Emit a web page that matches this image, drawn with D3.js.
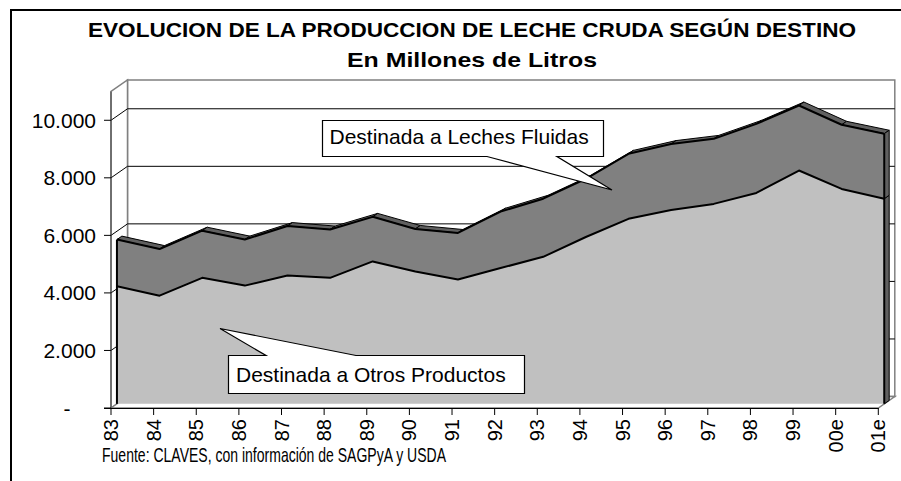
<!DOCTYPE html>
<html>
<head>
<meta charset="utf-8">
<script src="https://cdn.jsdelivr.net/npm/d3@7"></script>
<style>
  html, body { margin: 0; padding: 0; background: #fff; }
  svg { display: block; font-family: "Liberation Sans", Arial, sans-serif; }
</style>
</head>
<body>
<svg id="chart" width="901" height="481"></svg>
<script>
// ---------- DATA ----------
const years = ["83","84","85","86","87","88","89","90","91","92","93","94","95","96","97","98","99","00e","01e"];
const otrosProductos = [4090,3760,4380,4110,4460,4380,4950,4600,4320,4720,5110,5800,6430,6740,6950,7330,8110,7470,7130];
const lechesFluidas  = [1620,1620,1640,1600,1720,1680,1550,1480,1620,1960,2020,2020,2260,2290,2260,2400,2260,2230,2260];
const yTicks = [0,2000,4000,6000,8000,10000];
const yTickLabels = ["-","2.000","4.000","6.000","8.000","10.000"];
const seriesNames = ["Destinada a Otros Productos","Destinada a Leches Fluidas"];
const titleText = "EVOLUCION DE LA PRODUCCION DE LECHE CRUDA SEGÚN DESTINO";
const subtitleText = "En Millones de Litros";
const sourceText = "Fuente: CLAVES, con información de SAGPyA y USDA";
const yMax = 11000;

// ---------- SETUP ----------
const svg = d3.select("#chart");
const x = d3.scalePoint().domain(years).range([111, 878.3]);
const y = d3.scaleLinear().domain([0, yMax]).range([408, 91.5]);
const DX = 16.5, DY = 11.5;          // 3D depth of the chart box
const dF = 0.36, dB = 0.66;          // front / back depth of the area band
const P = (cat, v, d) => [x(cat) + d * DX, y(v) - d * DY];

const totals = years.map((c, i) => otrosProductos[i] + lechesFluidas[i]);

// Outer frame
svg.append("rect").attr("x", 11).attr("y", 10).attr("width", 900).attr("height", 480)
  .attr("fill", "#fff").attr("stroke", "#000").attr("stroke-width", 2);

// Titles
svg.append("text").attr("x", 472).attr("y", 37).attr("text-anchor", "middle")
  .attr("font-weight", "bold").attr("font-size", 21)
  .attr("textLength", 768).attr("lengthAdjust", "spacingAndGlyphs").text(titleText);
svg.append("text").attr("x", 472).attr("y", 67).attr("text-anchor", "middle")
  .attr("font-weight", "bold").attr("font-size", 21)
  .attr("textLength", 250).attr("lengthAdjust", "spacingAndGlyphs").text(subtitleText);

// ---------- WALLS ----------
const x0 = x(years[0]), x1 = x(years[years.length - 1]);
const yTop = y(yMax), yBot = y(0);
const wallG = svg.append("g");
wallG.append("rect").attr("x", x0 + DX).attr("y", yTop - DY)
  .attr("width", x1 - x0).attr("height", yBot - yTop)
  .attr("fill", "#fff").attr("stroke", "#808080").attr("stroke-width", 1.5);
wallG.append("path")
  .attr("d", `M${x0},${yBot}L${x0},${yTop}L${x0+DX},${yTop-DY}L${x0+DX},${yBot-DY}Z`)
  .attr("fill", "#fff").attr("stroke", "#808080").attr("stroke-width", 1.5);
wallG.append("path")
  .attr("d", `M${x0},${yBot}L${x0+DX},${yBot-DY}L${x1+DX},${yBot-DY}L${x1},${yBot}Z`)
  .attr("fill", "#fff").attr("stroke", "#808080").attr("stroke-width", 1.5);

yTicks.filter(v => v > 0).forEach(v => {
  wallG.append("line").attr("x1", x0 + DX).attr("x2", x1 + DX)
    .attr("y1", y(v) - DY).attr("y2", y(v) - DY)
    .attr("stroke", "#000").attr("stroke-width", 1);
  wallG.append("line").attr("x1", x0).attr("x2", x0 + DX)
    .attr("y1", y(v)).attr("y2", y(v) - DY)
    .attr("stroke", "#000").attr("stroke-width", 1);
});

// ---------- 3D AREA ----------
const areaG = svg.append("g");
const poly = pts => "M" + pts.map(p => p.join(",")).join("L") + "Z";
for (let i = 0; i < years.length - 1; i++) {
  const a = years[i], b = years[i + 1];
  areaG.append("path")
    .attr("d", poly([P(a, totals[i], dF), P(b, totals[i+1], dF), P(b, totals[i+1], dB), P(a, totals[i], dB)]))
    .attr("fill", "#606060").attr("stroke", "#000").attr("stroke-width", 1).attr("stroke-linejoin", "round");
}
const last = years.length - 1, lc = years[last];
areaG.append("path")
  .attr("d", poly([P(lc, 0, dF), P(lc, otrosProductos[last], dF), P(lc, otrosProductos[last], dB), P(lc, 0, dB)]))
  .attr("fill", "#606060").attr("stroke", "#000").attr("stroke-width", 1);
areaG.append("path")
  .attr("d", poly([P(lc, otrosProductos[last], dF), P(lc, totals[last], dF), P(lc, totals[last], dB), P(lc, otrosProductos[last], dB)]))
  .attr("fill", "#606060").attr("stroke", "#000").attr("stroke-width", 1);

const areaLight = d3.area()
  .x((d, i) => x(years[i]) + dF * DX)
  .y0(() => y(0) - dF * DY)
  .y1((d, i) => y(otrosProductos[i]) - dF * DY);
const areaDark = d3.area()
  .x((d, i) => x(years[i]) + dF * DX)
  .y0((d, i) => y(otrosProductos[i]) - dF * DY)
  .y1((d, i) => y(totals[i]) - dF * DY);
areaG.append("path").attr("d", areaLight(years)).attr("fill", "#C0C0C0");
areaG.append("path").attr("d", areaDark(years)).attr("fill", "#808080");

const lineOtros = d3.line().x((d, i) => x(years[i]) + dF * DX).y((d, i) => y(otrosProductos[i]) - dF * DY);
const lineTotal = d3.line().x((d, i) => x(years[i]) + dF * DX).y((d, i) => y(totals[i]) - dF * DY);
areaG.append("path").attr("d", lineOtros(years)).attr("fill", "none").attr("stroke", "#000").attr("stroke-width", 2).attr("stroke-linejoin", "round");
areaG.append("path").attr("d", lineTotal(years)).attr("fill", "none").attr("stroke", "#000").attr("stroke-width", 2).attr("stroke-linejoin", "round");
[[years[0], totals[0]], [lc, totals[last]]].forEach(([c, t]) => {
  const p0 = P(c, 0, dF), p1 = P(c, t, dF);
  areaG.append("line").attr("x1", p0[0]).attr("y1", p0[1]).attr("x2", p1[0]).attr("y2", p1[1])
    .attr("stroke", "#000").attr("stroke-width", 2);
});

// ---------- AXES ----------
const axG = svg.append("g");
axG.append("line").attr("x1", x0).attr("x2", x0).attr("y1", yBot).attr("y2", yTop).attr("stroke", "#404040").attr("stroke-width", 1);
axG.append("line").attr("x1", x0 - 7).attr("x2", x1).attr("y1", yBot + 0.5).attr("y2", yBot + 0.5).attr("stroke", "#000").attr("stroke-width", 1.2);
yTicks.forEach((v, i) => {
  axG.append("line").attr("x1", x0 - 7).attr("x2", x0).attr("y1", y(v)).attr("y2", y(v)).attr("stroke", "#000");
  const lab = yTickLabels[i];
  axG.append("text")
    .attr("x", lab === "-" ? 67 : 96).attr("y", y(v))
    .attr("text-anchor", lab === "-" ? "middle" : "end")
    .attr("dominant-baseline", "central").attr("font-size", 21).text(lab);
});
years.forEach(c => {
  axG.append("line").attr("x1", x(c)).attr("x2", x(c)).attr("y1", yBot).attr("y2", yBot + 7).attr("stroke", "#000");
  axG.append("text").attr("transform", `translate(${x(c)},${yBot + 11}) rotate(-90)`)
    .attr("text-anchor", "end").attr("dominant-baseline", "central")
    .attr("font-size", 20).text(c);
});

// ---------- CALLOUTS ----------
const cg = svg.append("g");
cg.append("path")
  .attr("d", "M322.5,120.5H603.5V156.5H557L612,190L487,156.5H322.5Z")
  .attr("fill", "#fff").attr("stroke", "#000").attr("stroke-width", 1.2);
cg.append("text").attr("x", 329.5).attr("y", 143.5).attr("font-size", 21).text(seriesNames[1]);
cg.append("path")
  .attr("d", "M228.5,355.5H266L220,328.5L356,355.5H524.5V393.5H228.5Z")
  .attr("fill", "#fff").attr("stroke", "#000").attr("stroke-width", 1.2);
cg.append("text").attr("x", 236).attr("y", 382).attr("font-size", 21).text(seriesNames[0]);

// Source
svg.append("text").attr("x", 102).attr("y", 462).attr("font-size", 21)
  .attr("textLength", 344).attr("lengthAdjust", "spacingAndGlyphs").text(sourceText);
</script>
</body>
</html>
